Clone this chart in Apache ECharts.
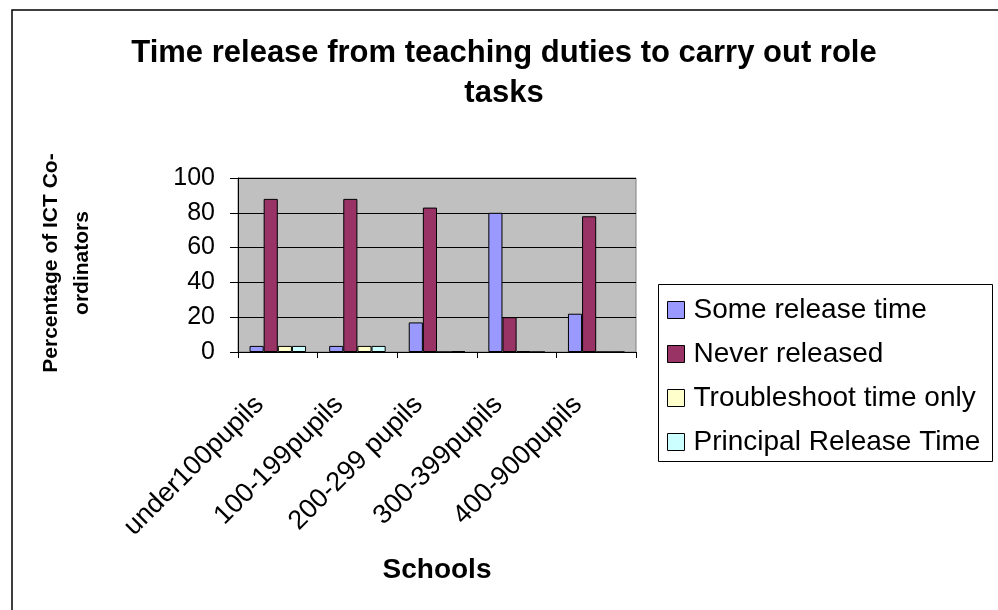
<!DOCTYPE html>
<html>
<head>
<meta charset="utf-8">
<script src="https://cdn.jsdelivr.net/npm/echarts@6/dist/echarts.min.js"></script>
<style>
  html, body { margin: 0; padding: 0; background: #fff; }
  #chart { width: 998px; height: 610px; }
</style>
</head>
<body>
<div id="chart"></div>
<script>
// School size bands
const categories = ['under100pupils', '100-199pupils', '200-299 pupils', '300-399pupils', '400-900pupils'];

// Percentage of ICT co-ordinators in each band
const someReleaseTime = [3.5, 3.5, 17, 80, 22];
const neverReleased = [88, 88, 83, 20, 78];
const troubleshootTimeOnly = [3.5, 3.5, 0, 0.5, 0];
const principalReleaseTime = [3.5, 3.5, 0.5, 0, 0];

const yTicks = [0, 20, 40, 60, 80, 100];

const FONT = '"Liberation Sans", Arial, sans-serif';

const seriesDefs = [
  { name: 'Some release time', data: someReleaseTime, color: '#9999FF' },
  { name: 'Never released', data: neverReleased, color: '#993366' },
  { name: 'Troubleshoot time only', data: troubleshootTimeOnly, color: '#FFFFCC' },
  { name: 'Principal Release Time', data: principalReleaseTime, color: '#CCFFFF' }
];

const chart = echarts.init(document.getElementById('chart'), null, { renderer: 'canvas' });

chart.setOption({
  animation: false,
  backgroundColor: '#ffffff',
  textStyle: { fontFamily: FONT, color: '#000' },
  graphic: [
    {
      type: 'rect',
      shape: { x: 12, y: 10, width: 1000, height: 620 },
      style: { fill: 'none', stroke: '#000', lineWidth: 1.5 },
      z: -10
    },
    {
      type: 'text',
      x: 504,
      y: 73,
      style: {
        text: 'Time release from teaching duties to carry out role\ntasks',
        font: 'bold 31px ' + FONT,
        fill: '#000',
        align: 'center',
        verticalAlign: 'middle',
        lineHeight: 40
      }
    },
    {
      type: 'text',
      x: 437,
      y: 570,
      style: {
        text: 'Schools',
        font: 'bold 28px ' + FONT,
        fill: '#000',
        align: 'center',
        verticalAlign: 'middle'
      }
    },
    {
      type: 'rect',
      shape: { x: 658.5, y: 284.5, width: 334, height: 177 },
      style: { fill: '#fff', stroke: '#000', lineWidth: 1 },
      z: 0
    },
    {
      type: 'text',
      x: 67,
      y: 263,
      rotation: Math.PI / 2,
      style: {
        text: 'Percentage of ICT Co-\nordinators',
        font: 'bold 21px ' + FONT,
        fill: '#000',
        align: 'center',
        verticalAlign: 'middle',
        lineHeight: 31
      }
    }
  ],
  legend: {
    orient: 'vertical',
    left: 658,
    top: 284,
    padding: [12, 10, 8, 9],
    itemWidth: 17,
    itemHeight: 17,
    itemGap: 16,
    z: 5,
    textStyle: { fontFamily: FONT, fontSize: 28, lineHeight: 28, color: '#000', padding: [0, 0, 0, 4] },
    data: seriesDefs.map(s => ({
      name: s.name,
      icon: 'rect',
      itemStyle: { color: s.color, borderColor: '#000', borderWidth: 1 }
    }))
  },
  grid: {
    left: 238,
    top: 178,
    right: 362,
    bottom: 258,
    show: true,
    backgroundColor: '#C0C0C0',
    borderColor: '#808080',
    borderWidth: 1
  },
  xAxis: {
    type: 'category',
    data: categories,
    boundaryGap: true,
    axisLine: { lineStyle: { color: '#000', width: 1 } },
    axisTick: { show: true, length: 6, inside: false, lineStyle: { color: '#000' } },
    axisLabel: {
      rotate: 45,
      interval: 0,
      margin: 30,
      fontFamily: FONT,
      fontSize: 27,
      color: '#000',
      padding: [0, 26, 0, 0]
    }
  },
  yAxis: {
    type: 'value',
    min: yTicks[0],
    max: yTicks[yTicks.length - 1],
    interval: 20,
    axisLine: { show: true, lineStyle: { color: '#000', width: 1 } },
    axisTick: { show: true, length: 8, lineStyle: { color: '#000' } },
    axisLabel: { margin: 23, fontFamily: FONT, fontSize: 25, color: '#000' },
    splitLine: { show: true, lineStyle: { color: '#000', width: 1 } }
  },
  series: seriesDefs.map(s => ({
    name: s.name,
    type: 'bar',
    data: s.data,
    barGap: '0%',
    barCategoryGap: '29%',
    itemStyle: { color: s.color, borderColor: '#000', borderWidth: 1 }
  }))
});
</script>
</body>
</html>
